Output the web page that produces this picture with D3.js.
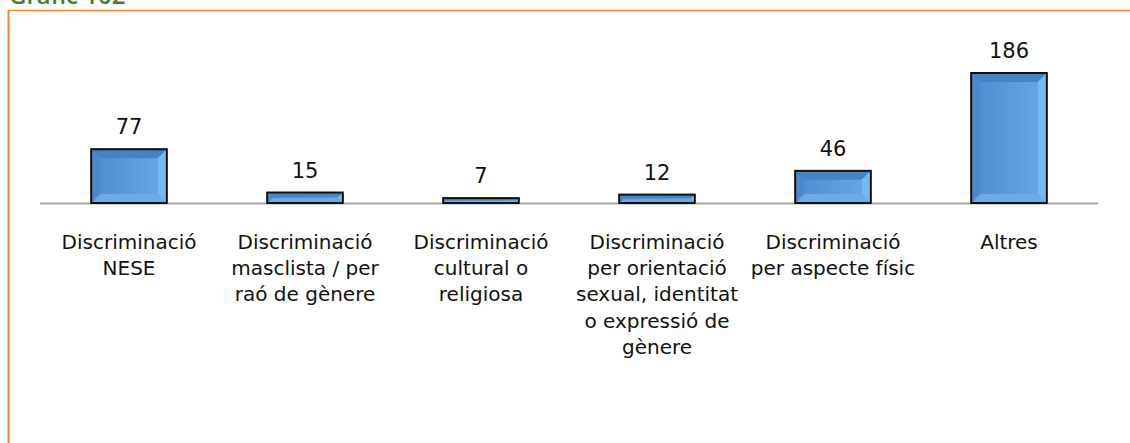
<!DOCTYPE html>
<html><head><meta charset="utf-8">
<script src="https://cdn.jsdelivr.net/npm/d3@7"></script>
<style>body{margin:0;background:#fff;}svg{display:block;}</style>
</head><body>
<script>
const categories = [
  ["Discriminació","NESE"],
  ["Discriminació","masclista / per","raó de gènere"],
  ["Discriminació","cultural o","religiosa"],
  ["Discriminació","per orientació","sexual, identitat","o expressió de","gènere"],
  ["Discriminació","per aspecte físic"],
  ["Altres"]
];
const values = [77, 15, 7, 12, 46, 186];
const title = "Gràfic 102";

const W = 1130, H = 443;
const svg = d3.select("body").append("svg").attr("width", W).attr("height", H);
const font = "'DejaVu Sans', sans-serif";

// frame
svg.append("line").attr("x1",8).attr("x2",W).attr("y1",10.5).attr("y2",10.5).attr("stroke","#f0863a").attr("stroke-width",1.5);
svg.append("line").attr("x1",8.5).attr("x2",8.5).attr("y1",10).attr("y2",H).attr("stroke","#f0863a").attr("stroke-width",2);
svg.append("text").attr("x",9).attr("y",4).attr("fill","#4a7b28").attr("font-family","'Open Sans', sans-serif")
  .attr("font-weight",600).attr("font-size",24).text(title);

const x = d3.scaleBand().domain(d3.range(values.length)).range([41,1097]).paddingInner(0.57).paddingOuter(0.285);
const y = d3.scaleLinear().domain([0,186]).range([203,73]);

// axis
svg.append("line").attr("x1",40).attr("x2",1098).attr("y1",203.5).attr("y2",203.5).attr("stroke","#a6a6a6").attr("stroke-width",2);

const defs = svg.append("defs");
const g = defs.append("linearGradient").attr("id","bg").attr("x1",0).attr("x2",1).attr("y1",0).attr("y2",0);
g.append("stop").attr("offset","0%").attr("stop-color","#4f8dcc");
g.append("stop").attr("offset","100%").attr("stop-color","#66a8e6");

const bars = svg.selectAll("g.bar").data(values).join("g").attr("class","bar");
bars.each(function(v,i){
  const gg = d3.select(this);
  const x0 = x(i), w = x.bandwidth(), y0 = y(v), h = y(0)-y(v);
  const b = Math.min(9, h/2 - 0.5, w/2);
  gg.append("rect").attr("x",x0).attr("y",y0).attr("width",w).attr("height",h).attr("fill","url(#bg)");
  const x1 = x0+w, y1 = y0+h;
  gg.append("path").attr("d",`M${x0},${y0}L${x1},${y0}L${x1-b},${y0+b}L${x0+b},${y0+b}Z`).attr("fill","#4683c2");
  gg.append("path").attr("d",`M${x0},${y0}L${x0+b},${y0+b}L${x0+b},${y1-b}L${x0},${y1}Z`).attr("fill","#4a89c8");
  gg.append("path").attr("d",`M${x1},${y0}L${x1},${y1}L${x1-b},${y1-b}L${x1-b},${y0+b}Z`).attr("fill","#78b9f2");
  gg.append("path").attr("d",`M${x0},${y1}L${x1},${y1}L${x1-b},${y1-b}L${x0+b},${y1-b}Z`).attr("fill","#6aabe8");
  gg.append("rect").attr("x",x0).attr("y",y0).attr("width",w).attr("height",h).attr("fill","none").attr("stroke","#111").attr("stroke-width",2);
});

svg.selectAll("text.val").data(values).join("text").attr("class","val")
  .attr("x",(d,i)=>x(i)+x.bandwidth()/2).attr("y",d=>y(d)-15)
  .attr("text-anchor","middle").attr("font-family",font).attr("font-size",21).attr("fill","#111")
  .text(d=>d);

categories.forEach((lines,i)=>{
  const t = svg.append("text").attr("x",x(i)+x.bandwidth()/2).attr("y",249)
    .attr("text-anchor","middle").attr("font-family",font).attr("font-size",20).attr("fill","#111");
  lines.forEach((l,j)=>t.append("tspan").attr("x",x(i)+x.bandwidth()/2).attr("dy",j?26.2:0).text(l));
});
</script>
</body></html>
